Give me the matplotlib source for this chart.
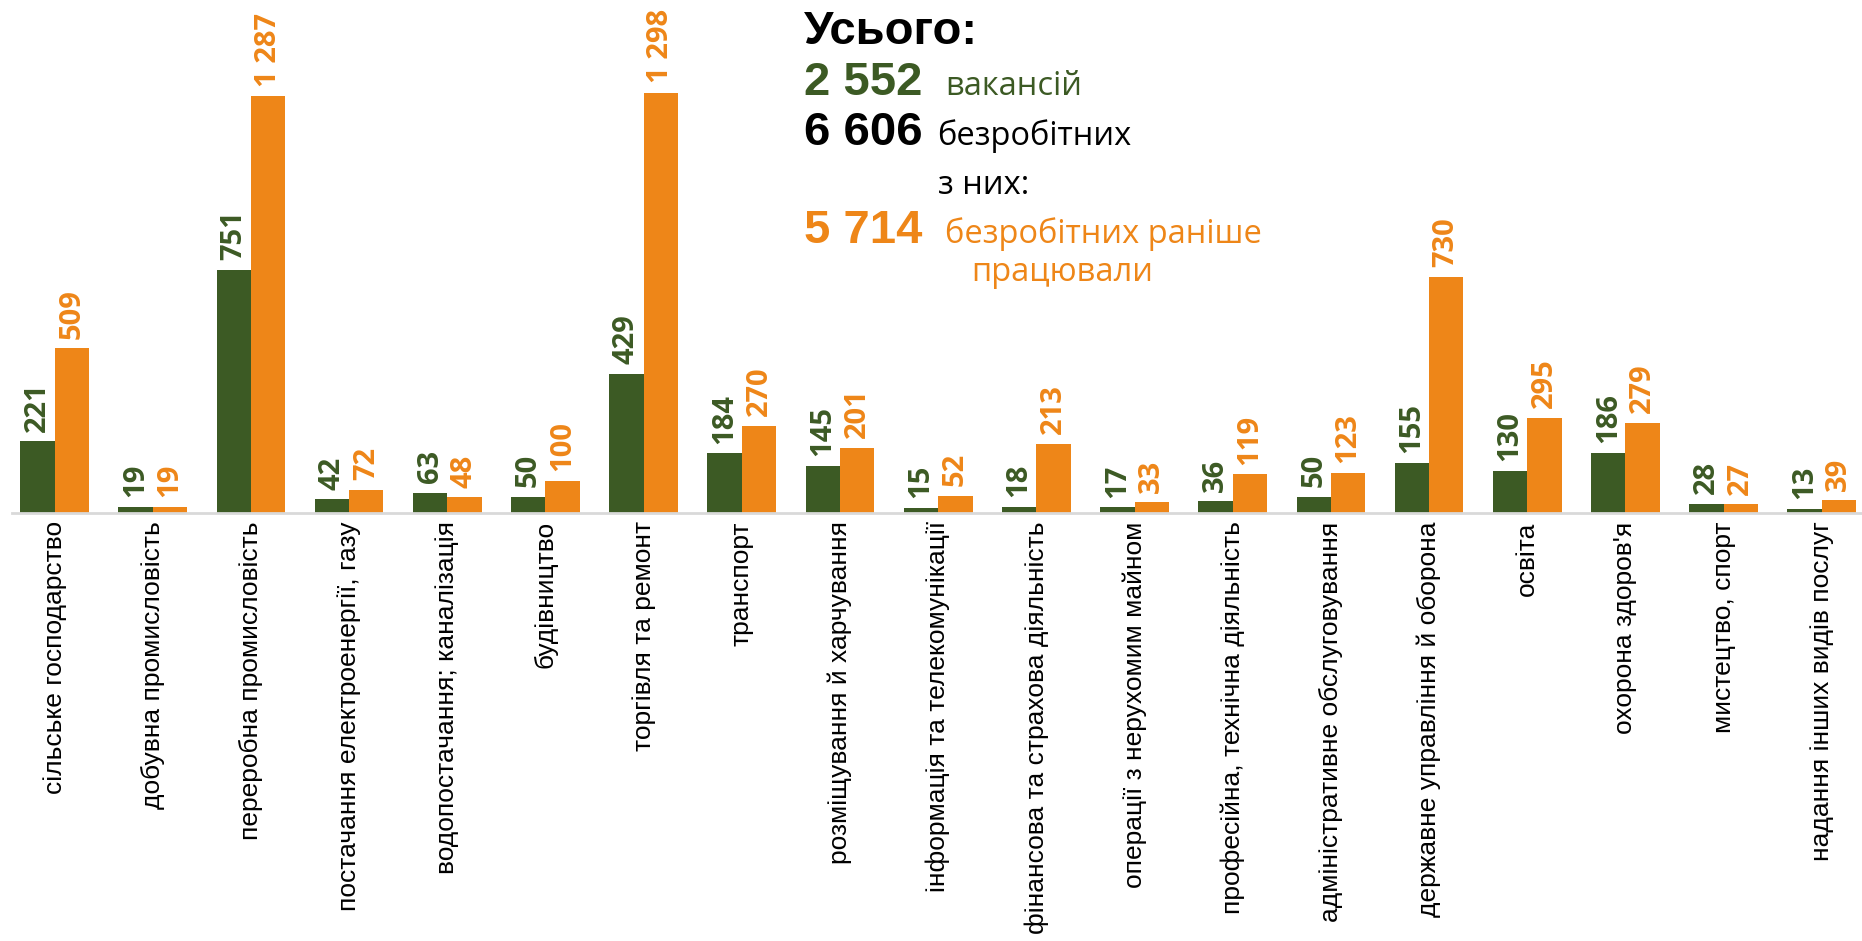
import numpy as np
import matplotlib.pyplot as plt

# categories (economic activities)
categories = [
    "сільське господарство",
    "добувна промисловість",
    "переробна промисловість",
    "постачання електроенергії, газу",
    "водопостачання; каналізація",
    "будівництво",
    "торгівля та ремонт",
    "транспорт",
    "розміщування й харчування",
    "інформація та телекомунікації",
    "фінансова та страхова діяльність",
    "операції з нерухомим майном",
    "професійна, технічна діяльність",
    "адміністративне обслуговування",
    "державне управління й оборона",
    "освіта",
    "охорона здоров'я",
    "мистецтво, спорт",
    "надання інших видів послуг",
]
vacancies = [221, 19, 751, 42, 63, 50, 429, 184, 145, 15, 18, 17, 36, 50, 155, 130, 186, 28, 13]
unemployed_worked = [509, 19, 1287, 72, 48, 100, 1298, 270, 201, 52, 213, 33, 119, 123, 730, 295, 279, 27, 39]

total_vacancies = 2552
total_unemployed = 6606
total_worked_before = 5714

GREEN = "#3C5A24"
ORANGE = "#EE8618"
W, H = 1862, 941


def fmt(v):
    return f"{v:,}".replace(",", " ")


fig = plt.figure(figsize=(W / 100, H / 100), dpi=100)
ax = fig.add_axes([12 / W, 1 - 513 / H, 1 - 12 / W, 513 / H])

x = np.arange(len(categories))
w = 0.35
ax.bar(x - w / 2, vacancies, w, color=GREEN)
ax.bar(x + w / 2, unemployed_worked, w, color=ORANGE)

for xi, v in zip(x - w / 2, vacancies):
    ax.annotate(fmt(v), xy=(xi, v), xytext=(0, 7), textcoords="offset points",
                rotation=90, ha="center", va="bottom", fontsize=21,
                fontweight="bold", family="Open Sans", color=GREEN)
for xi, v in zip(x + w / 2, unemployed_worked):
    ax.annotate(fmt(v), xy=(xi, v), xytext=(0, 7), textcoords="offset points",
                rotation=90, ha="center", va="bottom", fontsize=21,
                fontweight="bold", family="Open Sans", color=ORANGE)

ax.set_xlim(-0.434, 18.41)
ax.set_ylim(0, 1585)
ax.set_yticks([])
ax.set_xticks(x)
ax.set_xticklabels(categories, rotation=90, fontsize=19, family="Liberation Sans")
ax.tick_params(axis="x", length=0, pad=6)
for s in ["top", "left", "right"]:
    ax.spines[s].set_visible(False)
ax.spines["bottom"].set_color("#D9D9D9")
ax.spines["bottom"].set_linewidth(2)

# summary block
bold_font = "Liberation Sans"
big = 34
small = 23.5
fig.text(804 / W, 1 - 44 / H, "Усього:", fontsize=big, fontweight="bold",
         family=bold_font, color="black", va="baseline")
fig.text(804 / W, 1 - 95 / H, fmt(total_vacancies), fontsize=big, fontweight="bold",
         family=bold_font, color=GREEN, va="baseline")
fig.text(945 / W, 1 - 95 / H, "вакансій", fontsize=small,
         family="Open Sans", color=GREEN, va="baseline")
fig.text(804 / W, 1 - 145 / H, fmt(total_unemployed), fontsize=big, fontweight="bold",
         family=bold_font, color="black", va="baseline")
fig.text(937 / W, 1 - 145 / H, "безробітних", fontsize=small,
         family="Open Sans", color="black", va="baseline")
fig.text(938 / W, 1 - 194 / H, "з них:", fontsize=small,
         family="Open Sans", color="black", va="baseline")
fig.text(804 / W, 1 - 243 / H, fmt(total_worked_before), fontsize=big, fontweight="bold",
         family=bold_font, color=ORANGE, va="baseline")
fig.text(945 / W, 1 - 243 / H, "безробітних раніше", fontsize=small,
         family="Open Sans", color=ORANGE, va="baseline")
fig.text(971 / W, 1 - 281 / H, "працювали", fontsize=small,
         family="Open Sans", color=ORANGE, va="baseline")

fig.savefig("out.png", dpi=100)
